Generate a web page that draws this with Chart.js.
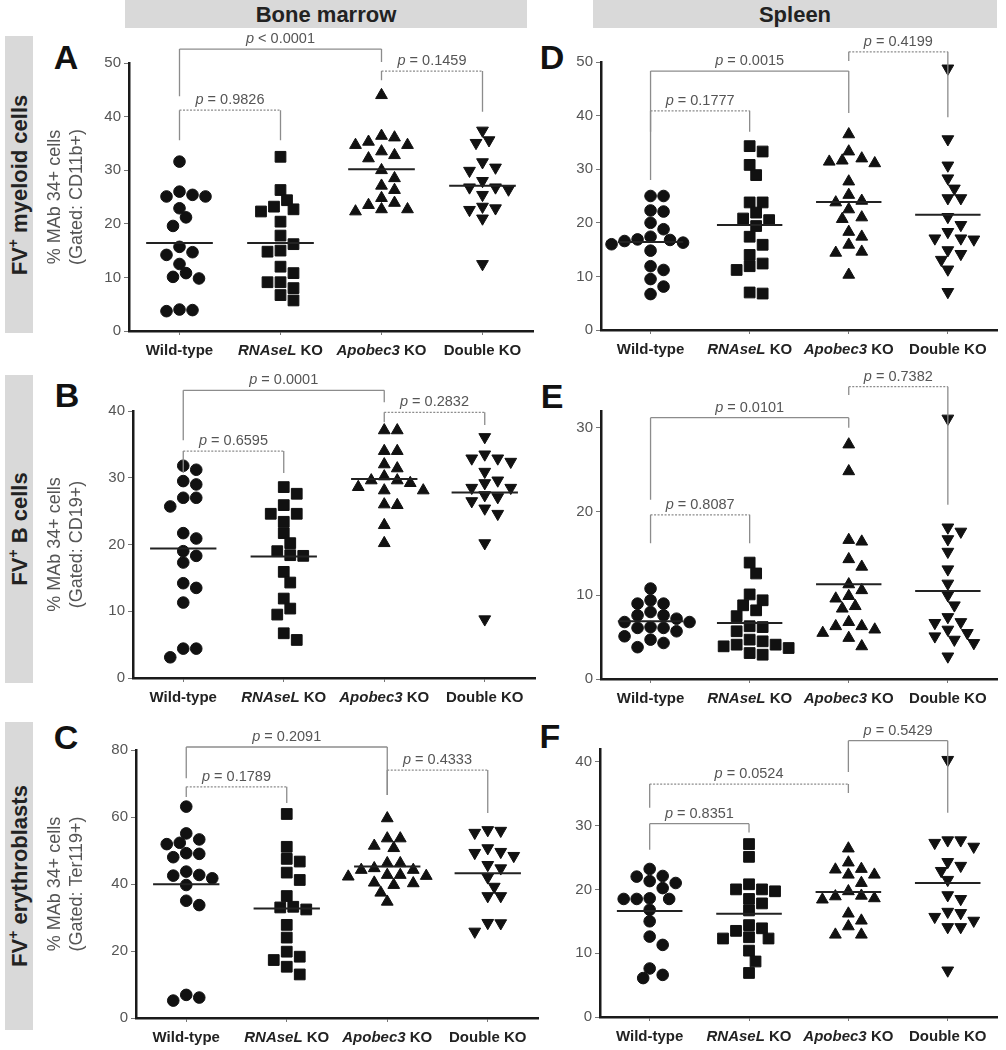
<!DOCTYPE html>
<html>
<head>
<meta charset="utf-8">
<script src="https://cdn.jsdelivr.net/npm/chart.js@4.4.1/dist/chart.umd.min.js"></script>
<style>
body { margin: 0; background: #fff; }
#page { position: relative; width: 1006px; height: 1050px; overflow: hidden; font-family: "Liberation Sans", Arial, sans-serif; }
.hdr { position: absolute; top: 0; height: 28px; background: #d9d9d9; font-weight: bold; font-size: 22px; color: #222; text-align: center; line-height: 30px; }
.side { position: absolute; left: 5px; width: 28px; background: #d9d9d9; }
.side span { position: absolute; left: 50%; top: 50%; transform: translate(-50%, -50%) rotate(-90deg); white-space: nowrap; font-weight: bold; font-size: 22px; color: #222; }
.side sup { font-size: 14px; }
.letter { position: absolute; font-weight: bold; font-size: 34px; color: #111; transform: translate(-50%, -50%); }
canvas { position: absolute; }
</style>
</head>
<body>
<div id="page">
  <div class="hdr" style="left:125px;width:402px">Bone marrow</div>
  <div class="hdr" style="left:593px;width:404px">Spleen</div>
  <div class="side" style="top:36px;height:297px"><span>FV<sup>+</sup> myeloid cells</span></div>
  <div class="side" style="top:375px;height:308px"><span>FV<sup>+</sup> B cells</span></div>
  <div class="side" style="top:722px;height:308px"><span>FV<sup>+</sup> erythroblasts</span></div>
  <div class="letter" style="left:66px;top:57px">A</div>
  <div class="letter" style="left:552px;top:57px">D</div>
  <div class="letter" style="left:67px;top:395px">B</div>
  <div class="letter" style="left:552px;top:396px">E</div>
  <div class="letter" style="left:66px;top:737px">C</div>
  <div class="letter" style="left:550px;top:736px">F</div>
</div>
<script>
const groups = ['Wild-type', 'RNAseL KO', 'Apobec3 KO', 'Double KO'];
const italicGenes = ['RNAseL', 'Apobec3'];
// comparisons drawn above each panel: WT vs Apobec3, WT vs RNAseL, Apobec3 vs Double
const pairs = [[1, 3], [1, 2], [3, 4]];

// A - bone marrow, myeloid
const valuesA = [
    [31.6, 26.0, 25.4, 25.1, 25.1, 22.9, 21.2, 19.6, 15.7, 14.7, 14.2, 12.5, 10.8, 10.1, 9.8, 4.0, 3.9, 3.7],
    [32.5, 26.3, 24.4, 23.2, 22.7, 22.3, 20.4, 17.8, 16.2, 15.0, 14.8, 12.0, 10.8, 9.1, 9.1, 8.0, 6.7, 5.7],
    [44.0, 36.4, 36.1, 35.3, 34.7, 34.7, 33.5, 32.8, 32.2, 30.0, 28.5, 27.1, 26.3, 24.8, 23.9, 23.5, 22.7, 22.7, 22.3],
    [37.4, 35.6, 35.1, 31.5, 30.5, 29.9, 28.0, 26.8, 26.8, 26.4, 25.4, 23.2, 22.9, 22.6, 21.0, 12.5]
];
const mediansA = [16.4, 16.4, 30.2, 27.1];
const pvalsA = ['< 0.0001', '= 0.9826', '= 0.1459'];

// B - bone marrow, B cells
const valuesB = [
    [31.8, 31.2, 29.5, 29.0, 27.0, 27.0, 25.7, 21.7, 20.9, 19.0, 18.3, 17.3, 14.2, 13.5, 11.3, 4.4, 4.4, 3.1],
    [28.6, 27.6, 25.9, 24.6, 24.6, 23.4, 21.7, 20.2, 19.0, 18.4, 18.3, 15.9, 14.3, 11.9, 10.4, 9.5, 6.7, 5.7],
    [37.1, 37.1, 34.0, 34.0, 32.0, 31.4, 30.2, 29.6, 29.6, 29.2, 28.6, 28.1, 28.1, 26.0, 25.9, 22.9, 20.2],
    [36.1, 33.5, 32.9, 32.9, 32.4, 30.9, 29.6, 29.2, 28.5, 28.5, 27.4, 27.1, 26.5, 25.4, 24.6, 20.2, 8.8]
];
const mediansB = [19.4, 18.2, 29.8, 27.8];
const pvalsB = ['= 0.0001', '= 0.6595', '= 0.2832'];

// C - bone marrow, erythroblasts
const valuesC = [
    [63.1, 55.1, 53.3, 52.3, 51.9, 49.2, 49.0, 48.0, 43.7, 42.7, 42.5, 41.7, 39.7, 35.0, 33.7, 6.9, 6.1, 5.2],
    [60.9, 51.1, 47.5, 46.7, 43.4, 41.2, 36.4, 33.2, 33.0, 32.4, 27.8, 24.0, 19.8, 18.3, 17.3, 15.3, 13.0],
    [59.6, 53.6, 53.6, 51.4, 50.7, 46.2, 46.2, 44.7, 44.2, 44.2, 42.7, 42.7, 42.4, 42.2, 40.4, 40.2, 39.7, 37.4, 34.7],
    [56.1, 55.9, 55.3, 50.7, 49.6, 49.3, 48.4, 45.7, 44.7, 42.0, 39.2, 36.4, 36.4, 28.4, 28.3, 25.8]
];
const mediansC = [39.9, 32.7, 45.2, 43.2];
const pvalsC = ['= 0.2091', '= 0.1789', '= 0.4333'];

// D - spleen, myeloid
const valuesD = [
    [25.0, 25.0, 22.3, 22.1, 20.0, 18.8, 17.4, 16.9, 16.8, 16.6, 16.3, 16.0, 14.8, 11.9, 11.2, 9.5, 8.1, 6.7],
    [34.3, 33.3, 30.8, 28.9, 23.8, 23.8, 21.9, 20.8, 20.5, 19.4, 17.4, 15.9, 14.0, 12.4, 11.9, 11.2, 7.0, 6.8],
    [36.5, 33.3, 32.0, 31.6, 31.4, 31.1, 27.7, 25.2, 24.1, 23.8, 22.5, 21.0, 20.7, 18.3, 17.4, 15.9, 14.6, 14.4, 10.3],
    [48.8, 35.6, 30.7, 28.3, 26.4, 24.6, 24.6, 21.1, 19.6, 18.3, 17.1, 17.1, 16.9, 14.9, 14.2, 13.1, 11.3, 7.1]
];
const mediansD = [16.4, 19.6, 23.9, 21.5];
const pvalsD = ['= 0.0015', '= 0.1777', '= 0.4199'];

// E - spleen, B cells
const valuesE = [
    [10.8, 9.4, 9.0, 9.0, 8.0, 7.6, 7.6, 7.2, 6.8, 6.8, 6.2, 6.1, 6.1, 5.7, 5.1, 4.7, 4.3, 3.8],
    [13.9, 12.6, 10.1, 9.4, 8.8, 8.2, 7.5, 6.3, 6.2, 5.7, 4.7, 4.5, 4.1, 4.1, 3.9, 3.7, 3.1, 2.9],
    [28.0, 24.8, 16.6, 16.4, 14.3, 13.4, 11.3, 10.6, 9.9, 9.6, 8.7, 8.4, 6.8, 6.3, 6.3, 5.9, 5.5, 4.9, 3.9],
    [31.1, 18.1, 17.6, 16.7, 15.2, 13.1, 11.4, 10.0, 8.8, 7.4, 6.8, 6.7, 5.9, 5.5, 5.1, 4.7, 4.3, 2.7]
];
const mediansE = [6.9, 6.7, 11.3, 10.5];
const pvalsE = ['= 0.0101', '= 0.8087', '= 0.7382'];

// F - spleen, erythroblasts
const valuesF = [
    [23.2, 22.1, 22.0, 21.3, 21.0, 20.2, 18.6, 18.5, 18.5, 18.5, 16.8, 15.0, 12.6, 11.3, 7.6, 6.6, 6.1],
    [27.1, 25.1, 20.8, 20.0, 20.0, 19.7, 18.5, 17.8, 16.7, 14.4, 13.9, 13.5, 12.5, 12.3, 12.3, 10.4, 8.7, 6.9],
    [26.4, 24.2, 23.2, 23.1, 22.3, 22.3, 21.0, 19.7, 19.0, 18.9, 18.6, 18.4, 16.2, 15.1, 14.2, 12.9, 12.9],
    [40.3, 27.7, 27.7, 27.3, 26.7, 24.3, 23.7, 22.9, 21.5, 19.1, 18.5, 16.5, 16.3, 15.7, 15.1, 14.1, 14.1, 7.3]
];
const mediansF = [16.6, 16.2, 19.6, 21.0];
const pvalsF = ['= 0.0524', '= 0.8351', '= 0.5429'];

const yTitleBase = '% MAb 34+ cells';

const FONT = '"Liberation Sans", Arial, sans-serif';
const markers = [
    {pointStyle: 'circle', radius: 5.8, rotation: 0},
    {pointStyle: 'rect', radius: 7.6, rotation: 0},
    {pointStyle: 'triangle', radius: 6.8, rotation: 0},
    {pointStyle: 'triangle', radius: 6.8, rotation: 180}
];

// left/right column frames; box = chart area in page pixels
// bracket = [top, left leg end, right leg end, dotted]
const panels = [
    {values: valuesA, medians: mediansA, pvals: pvalsA, yMax: 50, yStep: 10, title: [yTitleBase, '(Gated: CD11b+)'],
     frame: {x: 38, y: 28, w: 510, h: 345}, box: {l: 129, t: 63, r: 533, b: 331},
     brackets: [[52.6, 43.8, 50.2, false], [41.2, 35.6, 35.6, true], [48.5, 46.8, 40.9, true]]},
    {values: valuesB, medians: mediansB, pvals: pvalsB, yMax: 40, yStep: 10, title: [yTitleBase, '(Gated: CD19+)'],
     frame: {x: 38, y: 362, w: 510, h: 350}, box: {l: 133, t: 411, r: 535, b: 678},
     brackets: [[43.1, 35.6, 41.3, false], [34.0, 30.7, 30.7, true], [39.8, 38.3, 37.9, true]]},
    {values: valuesC, medians: mediansC, pvals: pvalsC, yMax: 80, yStep: 20, title: [yTitleBase, '(Gated: Ter119+)'],
     frame: {x: 38, y: 712, w: 510, h: 338}, box: {l: 136, t: 750, r: 538, b: 1018},
     brackets: [[80.9, 71.6, 66.6, false], [69.0, 66.0, 64.2, true], [74.0, 66.6, 61.2, true]]},
    {values: valuesD, medians: mediansD, pvals: pvalsD, yMax: 50, yStep: 10, title: null,
     frame: {x: 556, y: 28, w: 450, h: 345}, box: {l: 601, t: 62, r: 1005, b: 330},
     brackets: [[48.3, 28.0, 40.5, false], [40.9, 37.0, 37.0, true], [51.9, 50.2, 39.7, true]]},
    {values: valuesE, medians: mediansE, pvals: pvalsE, yMax: 32, yStep: 10, title: null,
     frame: {x: 556, y: 362, w: 450, h: 350}, box: {l: 601, t: 411, r: 1004, b: 679},
     brackets: [[31.2, 21.4, 30.0, false], [19.6, 16.2, 16.2, true], [34.9, 33.9, 20.8, true]]},
    {values: valuesF, medians: mediansF, pvals: pvalsF, yMax: 42, yStep: 10, title: null,
     frame: {x: 556, y: 712, w: 450, h: 338}, box: {l: 600, t: 749, r: 1004, b: 1017},
     brackets: [[36.5, 32.8, 35.1, true], [30.3, 26.2, 28.9, false], [43.3, 38.4, 32.0, false]]}
];

const X_AXIS_H = 20;

function drawParts(ctx, parts, cx, cy, size, color) {
    let total = 0;
    parts.forEach(p => {
        ctx.font = p[1] + size + 'px ' + FONT;
        total += ctx.measureText(p[0]).width;
    });
    let x = cx - total / 2;
    ctx.fillStyle = color;
    ctx.textBaseline = 'middle';
    ctx.textAlign = 'left';
    parts.forEach(p => {
        ctx.font = p[1] + size + 'px ' + FONT;
        ctx.fillText(p[0], x, cy);
        x += ctx.measureText(p[0]).width;
    });
}

function makeExtras(p, n) {
    return {
        id: 'extras' + n,
        afterDraw(chart) {
            const ctx = chart.ctx, xs = chart.scales.x, ys = chart.scales.y;
            ctx.save();
            p.brackets.forEach((br, k) => {
                const xa = xs.getPixelForValue(pairs[k][0]);
                const xb = xs.getPixelForValue(pairs[k][1]);
                const yt = ys.getPixelForValue(br[0]);
                ctx.strokeStyle = '#8c8c8c';
                ctx.lineWidth = 1.3;
                ctx.setLineDash([]);
                ctx.beginPath();
                ctx.moveTo(xa, ys.getPixelForValue(br[1]));
                ctx.lineTo(xa, yt);
                ctx.moveTo(xb, ys.getPixelForValue(br[2]));
                ctx.lineTo(xb, yt);
                ctx.stroke();
                ctx.setLineDash(br[3] ? [2, 1.5] : []);
                ctx.beginPath();
                ctx.moveTo(xa, yt);
                ctx.lineTo(xb, yt);
                ctx.stroke();
                ctx.setLineDash([]);
                drawParts(ctx, [['p', 'italic '], [' ' + p.pvals[k], '']], (xa + xb) / 2, yt - 10, 14.5, '#555');
            });
            groups.forEach((g, i) => {
                const gene = italicGenes.find(s => g.startsWith(s));
                const parts = gene ? [[gene, 'italic bold '], [g.slice(gene.length), 'bold ']] : [[g, 'bold ']];
                drawParts(ctx, parts, xs.getPixelForValue(i + 1), chart.chartArea.bottom + 20, 15, '#222');
            });
            ctx.restore();
        }
    };
}

// spread points of one group sideways so that markers do not sit on top of each other
function swarm(chart) {
    const xs = chart.scales.x, ys = chart.scales.y;
    const unit = xs.getPixelForValue(2) - xs.getPixelForValue(1);
    const STEP = 6.5, GAP = 11;
    chart.data.datasets.forEach(ds => {
        if (ds.cat === undefined) return;
        const placed = [];
        const order = ds.data.map((d, i) => i).sort((a, b) => ds.data[b].y - ds.data[a].y);
        order.forEach(i => {
            const py = ys.getPixelForValue(ds.data[i].y);
            let k = 0, off = 0;
            while (true) {
                off = k === 0 ? 0 : (k % 2 ? 1 : -1) * Math.ceil(k / 2) * STEP;
                if (!placed.some(q => Math.hypot(q[0] - off, q[1] - py) < GAP)) break;
                k++;
            }
            placed.push([off, py]);
            ds.data[i].x = ds.cat + off / unit;
        });
    });
    chart.update('none');
}

panels.forEach((p, n) => {
    const cv = document.createElement('canvas');
    cv.width = p.frame.w;
    cv.height = p.frame.h;
    cv.style.left = p.frame.x + 'px';
    cv.style.top = p.frame.y + 'px';
    document.getElementById('page').appendChild(cv);

    const yAxisW = p.box.l - p.frame.x;
    const datasets = p.values.map((vals, i) => ({
        cat: i + 1,
        data: vals.map(v => ({x: i + 1, y: v})),
        pointStyle: markers[i].pointStyle,
        pointRadius: markers[i].radius,
        rotation: markers[i].rotation,
        backgroundColor: '#111',
        borderColor: '#111',
        borderWidth: 1,
        order: 2
    }));
    const medLine = [];
    p.medians.forEach((m, i) => {
        medLine.push({x: i + 1 - 0.33, y: m}, {x: i + 1 + 0.33, y: m}, {x: i + 1 + 0.33, y: null});
    });
    datasets.push({
        data: medLine,
        showLine: true,
        spanGaps: false,
        pointRadius: 0,
        borderColor: '#222',
        borderWidth: 2,
        order: 1
    });

    const yTicks = [];
    for (let v = 0; v <= p.yMax; v += p.yStep) yTicks.push({value: v});

    const chart = new Chart(cv.getContext('2d'), {
        type: 'scatter',
        data: {datasets: datasets},
        options: {
            responsive: false,
            animation: false,
            events: [],
            layout: {padding: {left: 0, top: p.box.t - p.frame.y, right: p.frame.x + p.frame.w - p.box.r,
                bottom: p.frame.y + p.frame.h - p.box.b - X_AXIS_H}},
            plugins: {legend: {display: false}, tooltip: {enabled: false}},
            scales: {
                x: {
                    type: 'linear', min: 0.5, max: 4.5,
                    afterBuildTicks: s => { s.ticks = groups.map((g, i) => ({value: i + 1})); },
                    afterFit: s => { s.height = X_AXIS_H; },
                    ticks: {display: false},
                    grid: {drawOnChartArea: false, drawTicks: true, tickLength: 4, color: '#777'},
                    border: {display: true, color: '#1a1a1a', width: 2.5}
                },
                y: {
                    min: 0, max: p.yMax,
                    afterBuildTicks: s => { s.ticks = yTicks.map(t => ({value: t.value})); },
                    afterFit: s => { s.width = yAxisW; },
                    ticks: {stepSize: p.yStep, color: '#555', padding: 3, font: {family: FONT, size: 15}},
                    grid: {drawOnChartArea: false, drawTicks: true, tickLength: 5, color: '#777'},
                    border: {display: true, color: '#1a1a1a', width: 2.5},
                    title: p.title ? {display: true, text: p.title, color: '#555', padding: {top: 7, bottom: 0},
                        font: {family: FONT, size: 18, lineHeight: 1.17}} : {display: false}
                }
            }
        },
        plugins: [makeExtras(p, n)]
    });
    swarm(chart);
});
</script>
</body>
</html>
